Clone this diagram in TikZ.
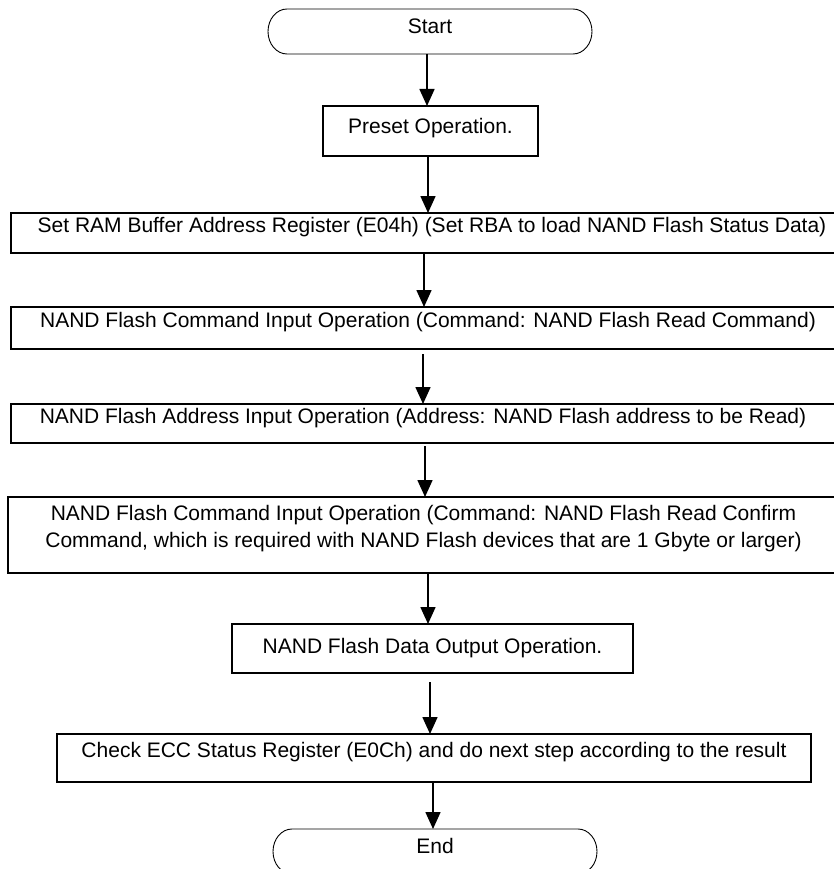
\documentclass[tikz,border=0pt]{standalone}
\usepackage{fontspec}
\setmainfont{Liberation Sans}
\usetikzlibrary{arrows.meta}
\begin{document}
\begin{tikzpicture}[x=1pt,y=-1pt,
  every node/.style={font=\fontsize{21}{27}\selectfont, inner sep=0pt, outer sep=0pt, align=center},
  stepbox/.style={draw, line width=1.6pt},
  termnode/.style={draw=none},
  termline/.style={line width=0.9pt},
  arr/.style={line width=1.6pt, -{Triangle[width=15pt,length=17pt]}}]
\useasboundingbox (0,0) rectangle (833,869);
\fill[white] (0,0) rectangle (833,869);

% Start terminal
\node[termnode, anchor=north, minimum width=286pt, text height=25pt, text depth=20pt] (start) at (430,9) {Start};
\draw[termline] (start.north west) -- (start.north east)
  arc[start angle=90, end angle=-90, x radius=19pt, y radius=22.5pt]
  -- (start.south west)
  arc[start angle=270, end angle=90, x radius=19pt, y radius=22.5pt] -- cycle;

\node[stepbox, anchor=north, minimum width=215pt, text height=28pt, text depth=22pt] (preset) at (430.5,106) {Preset Operation.};

\node[stepbox, anchor=north, minimum width=842pt, text height=19pt, text depth=21pt] (setram) at (432,213)
  {Set RAM Buffer Address Register (E04h) (Set RBA to load NAND Flash Status Data)};

\node[stepbox, anchor=north, minimum width=834pt, text height=20pt, text depth=22pt] (cmd) at (428,307)
  {NAND Flash Command Input Operation (Command: NAND Flash Read Command)};

\node[stepbox, anchor=north, minimum width=824pt, text height=19pt, text depth=20pt] (addr) at (423,404)
  {NAND Flash Address Input Operation (Address: NAND Flash address to be Read)};

\node[stepbox, anchor=north, minimum width=831pt, text height=50pt, text depth=26pt] (confirm) at (423.5,497)
  {NAND Flash Command Input Operation (Command: NAND Flash Read Confirm\\
   Command, which is required with NAND Flash devices that are 1 Gbyte or larger)};

\node[stepbox, anchor=north, minimum width=401pt, text height=29pt, text depth=20pt] (data) at (432.5,624)
  {NAND Flash Data Output Operation.};

\node[stepbox, anchor=north, minimum width=754pt, text height=23pt, text depth=25pt] (check) at (434,734)
  {Check ECC Status Register (E0Ch) and do next step according to the result};

% End terminal
\node[termnode, anchor=north, minimum width=286pt, text height=24pt, text depth=21pt] (end) at (435,829) {End};
\draw[termline] (end.north west) -- (end.north east)
  arc[start angle=90, end angle=-90, x radius=19pt, y radius=22.5pt]
  -- (end.south west)
  arc[start angle=270, end angle=90, x radius=19pt, y radius=22.5pt] -- cycle;

% connectors
\draw[arr] ([xshift=-3pt]start.south) -- ([xshift=-3.5pt]preset.north);
\draw[arr] ([xshift=-2.5pt]preset.south) -- ([xshift=-4pt]setram.north);
\draw[arr] ([xshift=-8pt]setram.south) -- ([xshift=-4pt]cmd.north);
\draw[arr, shorten <=5pt] ([xshift=-5pt]cmd.south) -- (addr.north);
\draw[arr, shorten <=3pt] ([xshift=2pt]addr.south) -- ([xshift=1.5pt]confirm.north);
\draw[arr] ([xshift=4.5pt]confirm.south) -- ([xshift=-4.5pt]data.north);
\draw[arr, shorten <=9pt] ([xshift=-2.5pt]data.south) -- ([xshift=-4pt]check.north);
\draw[arr] ([xshift=-1pt]check.south) -- ([xshift=-2pt]end.north);
\end{tikzpicture}
\end{document}
